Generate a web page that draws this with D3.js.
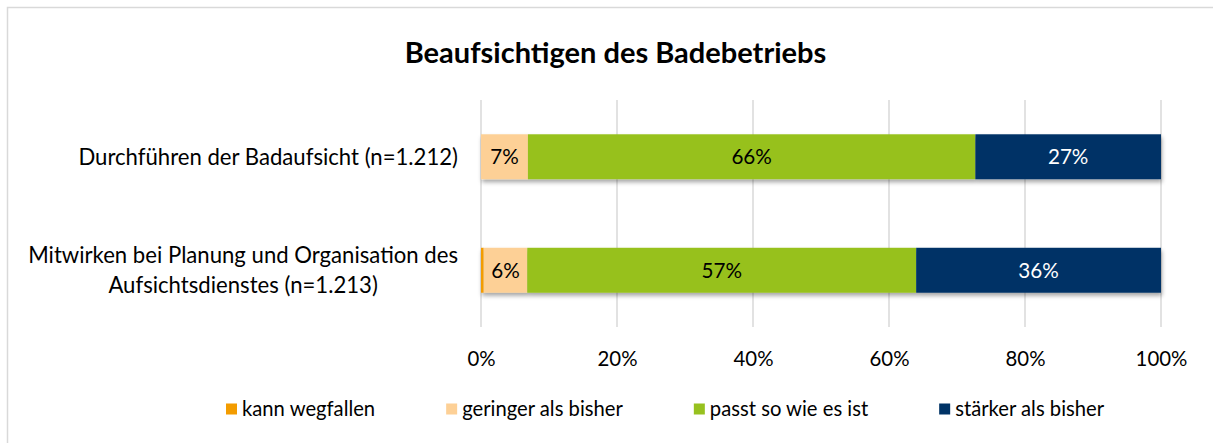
<!DOCTYPE html>
<html><head><meta charset="utf-8">
<script src="https://cdn.jsdelivr.net/npm/d3@7"></script>
<style>body{margin:0;background:#fff;} svg{display:block;}</style>
</head><body>
<svg id="chart" width="1213" height="443"></svg>
<script>
// ---------- data ----------
const title = "Beaufsichtigen des Badebetriebs";
const categories = [
  "Durchführen der Badaufsicht (n=1.212)",
  "Mitwirken bei Planung und Organisation des Aufsichtsdienstes (n=1.213)"
];
const seriesNames = ["kann wegfallen", "geringer als bisher", "passt so wie es ist", "stärker als bisher"];
const kannWegfallen     = [0.0, 0.4];
const geringerAlsBisher = [6.9, 6.4];
const passtSoWieEsIst   = [65.8, 57.2];
const staerkerAlsBisher = [27.3, 36.0];
const xTicks = [0, 20, 40, 60, 80, 100];

// ---------- styles ----------
const colors = ["#F39C00", "#FDD096", "#97C11F", "#003366"];
const labelColors = ["#000000", "#000000", "#000000", "#FFFFFF"];
const FONT = "Lato, 'Open Sans', sans-serif";

const seriesValues = [kannWegfallen, geringerAlsBisher, passtSoWieEsIst, staerkerAlsBisher];
const rows = categories.map((c, i) => {
  const r = { category: c };
  seriesNames.forEach((s, k) => r[s] = seriesValues[k][i]);
  return r;
});

const svg = d3.select("#chart");
svg.append("rect").attr("width", 1213).attr("height", 443).attr("fill", "#fff");
svg.append("rect").attr("x", 7.5).attr("y", 7.5).attr("width", 1212).attr("height", 442)
  .attr("fill", "none").attr("stroke", "#D9D9D9").attr("stroke-width", 1.5);

// measuring helper for font fitting
const meas = svg.append("text").attr("font-family", FONT).attr("x", -1000).attr("y", -1000);
function fitSize(str, weight, target) {
  meas.attr("font-weight", weight).attr("font-size", 20).text(str);
  const w = meas.node().getComputedTextLength();
  return 20 * target / w;
}
function measure(str, weight, size) {
  meas.attr("font-weight", weight).attr("font-size", size).text(str);
  return meas.node().getComputedTextLength();
}
const titleSize = fitSize(title, "bold", 422);
const catSize = fitSize(categories[0], "normal", 380);
const dataSize = fitSize("66%", "normal", 40.5);
const legendSize = fitSize(seriesNames[3], "normal", 149);
const tickSize = fitSize("20%", "normal", 40);

const defs = svg.append("defs");
const f = defs.append("filter").attr("id", "shadow").attr("x", "-5%").attr("y", "-30%").attr("width", "110%").attr("height", "180%");
f.append("feDropShadow").attr("dx", 1).attr("dy", 3).attr("stdDeviation", 2)
  .attr("flood-color", "#000").attr("flood-opacity", 0.35);

// ---------- scales ----------
const x = d3.scaleLinear().domain([0, 100]).range([481, 1161]);
const y = d3.scaleBand().domain(categories).range([100, 327]).paddingInner(0.604).paddingOuter(0.302);

// gridlines
svg.append("g").selectAll("line").data(xTicks).join("line")
  .attr("x1", d => x(d)).attr("x2", d => x(d))
  .attr("y1", 100).attr("y2", 327)
  .attr("stroke", "#D9D9D9").attr("stroke-width", 1.5);

// bars
const stacked = d3.stack().keys(seriesNames)(rows);
const rowG = svg.append("g").selectAll("g").data(categories).join("g")
  .attr("filter", "url(#shadow)");
rowG.selectAll("rect")
  .data((c, i) => stacked.map((s, k) => ({ k, x0: s[i][0], x1: s[i][1], c })))
  .join("rect")
  .attr("x", d => x(d.x0)).attr("width", d => x(d.x1) - x(d.x0))
  .attr("y", d => y(d.c)).attr("height", y.bandwidth())
  .attr("fill", d => colors[d.k]);

// data labels
const labelData = [];
categories.forEach((c, i) => stacked.forEach((s, k) => {
  const v = s[i][1] - s[i][0];
  if (v >= 1) labelData.push({ c, k, v, mid: (s[i][0] + s[i][1]) / 2 });
}));
svg.append("g").selectAll("text").data(labelData).join("text")
  .attr("x", d => x(d.mid)).attr("y", d => y(d.c) + y.bandwidth() / 2)
  .attr("dy", "0.36em").attr("text-anchor", "middle")
  .attr("font-family", FONT).attr("font-size", dataSize)
  .attr("fill", d => labelColors[d.k])
  .text(d => Math.round(d.v) + "%");

// x axis
const xAxis = svg.append("g").attr("transform", "translate(0,327)")
  .call(d3.axisBottom(x).tickValues(xTicks).tickSize(0).tickFormat(d => d + "%"));
xAxis.select(".domain").remove();
xAxis.selectAll("text").attr("y", 39).attr("dy", 0)
  .attr("font-family", FONT).attr("font-size", tickSize).attr("fill", "#000");

// category labels (wrapped, centered block, right-aligned to axis)
const maxW = 440, lineH = 29.7, labelRight = 458;
categories.forEach(c => {
  const words = c.split(" ");
  const lines = [];
  let cur = "";
  words.forEach(w => {
    const t = cur ? cur + " " + w : w;
    if (measure(t, "normal", catSize) > maxW && cur) { lines.push(cur); cur = w; }
    else cur = t;
  });
  if (cur) lines.push(cur);
  const widest = d3.max(lines, l => measure(l, "normal", catSize));
  const cx = labelRight - widest / 2;
  const cy = y(c) + y.bandwidth() / 2;
  const t = svg.append("text").attr("text-anchor", "middle")
    .attr("font-family", FONT).attr("font-size", catSize).attr("fill", "#000");
  lines.forEach((l, j) => {
    t.append("tspan").attr("x", cx)
      .attr("y", cy + (j - (lines.length - 1) / 2) * lineH)
      .attr("dy", "0.36em").text(l);
  });
});

// title
svg.append("text").attr("x", 615.5).attr("y", 63)
  .attr("text-anchor", "middle").attr("font-family", FONT)
  .attr("font-weight", "bold").attr("font-size", titleSize).attr("fill", "#000")
  .text(title);

// legend
const sq = 11, gapSqText = 5, gapItems = 71;
const itemW = seriesNames.map(s => sq + gapSqText + measure(s, "normal", legendSize));
let lx = 226;
const legendY = 409;
seriesNames.forEach((s, k) => {
  const g = svg.append("g").attr("transform", `translate(${lx},${legendY})`);
  g.append("rect").attr("x", 0).attr("y", -sq / 2).attr("width", sq).attr("height", sq).attr("fill", colors[k]);
  g.append("text").attr("x", sq + gapSqText).attr("y", 0).attr("dy", "0.36em")
    .attr("font-family", FONT).attr("font-size", legendSize).attr("fill", "#000").text(s);
  lx += itemW[k] + gapItems;
});
meas.remove();
</script>
</body></html>
